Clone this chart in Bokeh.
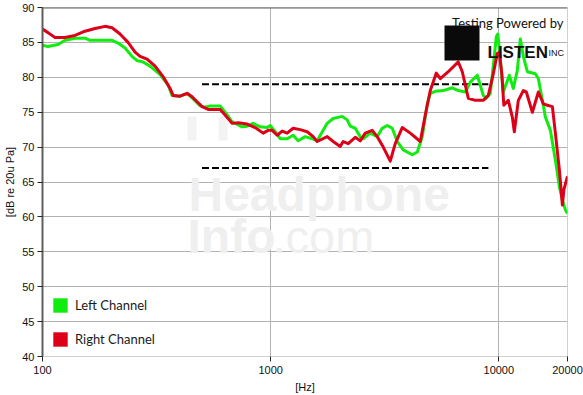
from bokeh.plotting import figure
from bokeh.models import (Range1d, FixedTicker, Legend, LegendItem, Label, Span,
                          ColumnDataSource, PrintfTickFormatter, BoxAnnotation)
from bokeh.embed import file_html
from bokeh.resources import INLINE

# ---------------- data ----------------
left_freq = [100, 105.7, 117.0, 125.5, 138.8, 153.6, 161.6, 201.8, 214.4, 230.1,
             246.9, 259.7, 275.9, 296.1, 327.6, 355.2, 369.8, 401.0, 430.4, 457.3,
             490.8, 516.2, 543.0, 600.5, 631.5, 677.8, 749.9, 788.7, 837.8, 899.4,
             965.3, 995, 1047, 1101, 1181, 1255, 1320, 1417, 1520, 1599,
             1769, 1879, 2059, 2165, 2232, 2348, 2469, 2545, 2731, 2932,
             3083, 3243, 3411, 3588, 3812, 4175, 4392, 4619, 4858, 5008,
             5267, 5710, 6253, 6643, 7130, 7499, 8048, 8549, 8813, 9178,
             9751, 9899, 10102, 10465, 11117, 11576, 12054, 12425, 12807, 13335,
             14462, 14907, 15521, 15998, 16827, 17699, 18429, 18996, 19581, 20000]
left_db = [84.6, 84.4, 84.7, 85.3, 85.6, 85.6, 85.3, 85.3, 84.9, 84.2,
           83.0, 82.4, 82.2, 81.6, 80.4, 78.9, 77.4, 77.3, 77.7, 76.9,
           75.9, 75.7, 75.9, 75.9, 75.0, 73.6, 72.9, 73.0, 73.4, 72.9,
           72.8, 73.1, 72.2, 71.2, 71.2, 71.7, 70.9, 71.5, 71.2, 70.9,
           73.4, 74.1, 74.4, 73.9, 73.0, 72.7, 71.5, 71.2, 72.0, 71.5,
           72.7, 73.1, 72.7, 70.8, 69.6, 68.9, 69.3, 71.5, 76.2, 77.7,
           78.0, 78.1, 78.5, 78.1, 77.9, 79.3, 80.3, 77.4, 77.0, 77.7,
           85.8, 86.2, 83.4, 77.9, 80.3, 78.4, 81.0, 85.5, 83.0, 80.8,
           80.5, 79.8, 76.7, 74.3, 72.4, 68.1, 64.3, 62.4, 61.0, 60.5]

right_freq = [100, 105.7, 113.4, 125.5, 138.8, 153.6, 169.9, 187.9, 201.8, 218.7,
              237.1, 254.5, 267.7, 287.3, 311.5, 337.7, 362.4, 373.6, 401.0, 430.4,
              452.7, 476.1, 500.8, 532.1, 600.5, 631.5, 677.8, 720.2, 788.7, 854.9,
              927.1, 975.1, 1015, 1068, 1123, 1181, 1255, 1347, 1446, 1536,
              1599, 1769, 1879, 2018, 2080, 2187, 2348, 2469, 2597, 2787,
              2932, 3115, 3343, 3516, 3774, 4092, 4527, 4761, 5008, 5321,
              5540, 6005, 6643, 6917, 7349, 7887, 8549, 8994, 9460, 9850,
              10051, 10308, 10518, 11007, 11460, 11694, 12176, 12807, 13200, 14029,
              14907, 15678, 16324, 17170, 17699, 18429, 18996, 19286, 20000]
right_db = [86.9, 86.4, 85.7, 85.7, 86.0, 86.6, 87.0, 87.3, 87.1, 86.2,
            85.0, 83.6, 83.0, 82.6, 81.6, 80.1, 78.4, 77.4, 77.3, 77.7,
            77.2, 76.5, 75.8, 75.4, 75.4, 74.6, 73.4, 73.5, 73.3, 72.8,
            72.0, 72.4, 72.4, 71.7, 72.3, 72.0, 72.7, 72.5, 72.2, 71.5,
            70.8, 71.5, 70.8, 70.1, 70.8, 70.5, 71.4, 70.9, 72.0, 72.4,
            71.5, 70.0, 68.0, 70.5, 72.8, 72.0, 70.8, 74.6, 78.1, 80.6,
            79.8, 80.8, 82.2, 80.8, 77.0, 76.7, 76.7, 77.4, 80.5, 83.4,
            83.6, 80.5, 76.0, 76.7, 74.3, 72.2, 76.7, 78.1, 77.9, 75.0,
            77.9, 76.2, 76.0, 75.8, 72.0, 66.7, 61.7, 63.9, 65.8]

target_freq = [500, 9000]
target_upper = [79, 79]
target_lower = [67, 67]

x_ticks = [100, 1000, 10000, 20000]
y_ticks = [40, 45, 50, 55, 60, 65, 70, 75, 80, 85, 90]
series_names = ["Left Channel", "Right Channel"]
series_colors = ["#10ec10", "#dc0018"]

# ---------------- figure ----------------
FL, FR, FT, FB = 42, 567, 7, 357  # frame edges on canvas
p = figure(width=583, height=395, x_axis_type="log",
           x_range=Range1d(100, 20000), y_range=Range1d(40, 90),
           output_backend="svg", toolbar_location=None,
           min_border_left=FL, min_border_right=583 - FR,
           min_border_top=FT, min_border_bottom=395 - FB)
p.background_fill_color = "white"
p.border_fill_color = "white"
p.outline_line_color = "#d0d0d0"
p.outline_line_width = 1


def sx(cx):
    return cx - FL


def sy(cy):
    return FB - cy


def screen_box(l, r, t, b, color, level):
    return BoxAnnotation(left=sx(l), right=sx(r), top=sy(t), bottom=sy(b),
                         left_units="screen", right_units="screen",
                         top_units="screen", bottom_units="screen",
                         fill_color=color, fill_alpha=1, line_color=None, level=level)


# watermark (behind everything)
wm = "#efefef"
p.add_layout(Label(x=sx(188), y=sy(195), x_units="screen", y_units="screen",
                   text="Headphone", text_font="Liberation Sans", text_font_style="bold",
                   text_font_size="48px", text_color=wm, text_baseline="alphabetic",
                   level="underlay"))
p.add_layout(Label(x=sx(187), y=sy(237), x_units="screen", y_units="screen",
                   text="Info", text_font="Liberation Sans", text_font_style="bold",
                   text_font_size="48px", text_color=wm, text_baseline="alphabetic",
                   level="underlay"))
p.add_layout(Label(x=sx(272), y=sy(237), x_units="screen", y_units="screen",
                   text=".com", text_font="Liberation Sans",
                   text_font_size="47px", text_color=wm, text_baseline="alphabetic",
                   level="underlay"))
p.add_layout(screen_box(187, 196, 117, 141, "#f3f3f3", "underlay"))
p.add_layout(screen_box(218, 227, 117, 141, "#f3f3f3", "underlay"))

# grid
p.ygrid.grid_line_color = "#b2b2b2"
p.ygrid.ticker = FixedTicker(ticks=y_ticks)
p.xgrid.grid_line_color = "#b2b2b2"
p.xgrid.ticker = FixedTicker(ticks=[1000, 10000])

# top border (dark)
p.add_layout(Span(location=90, dimension="width", line_color="#5e5e5e", line_width=2))

# target dashed lines
p.line(target_freq, target_upper, line_color="black", line_width=2, line_dash="7 3")
p.line(target_freq, target_lower, line_color="black", line_width=2, line_dash="7 3")

# curves
p.line(left_freq, left_db, line_color=series_colors[0], line_width=3, line_join="round")
p.line(right_freq, right_db, line_color=series_colors[1], line_width=3, line_join="round")

# axes
xa = p.xaxis[0]
xa.ticker = FixedTicker(ticks=x_ticks)
xa.formatter = PrintfTickFormatter(format="%d")
xa.axis_label = "[Hz]"
xa.axis_line_color = "#d0d0d0"
ya = p.yaxis[0]
ya.ticker = FixedTicker(ticks=y_ticks)
ya.axis_label = "[dB re 20u Pa]"
ya.axis_line_color = "#5e5e5e"
ya.axis_line_width = 2
for ax in (xa, ya):
    ax.major_tick_in = 0
    ax.major_tick_out = 5
    ax.major_tick_line_color = "#222222"
    ax.minor_tick_line_color = None
    ax.major_label_text_font = "Liberation Sans"
    ax.major_label_text_font_size = "11px"
    ax.major_label_text_color = "#111111"
    ax.axis_label_text_font = "Liberation Sans"
    ax.axis_label_text_font_size = "11px"
    ax.axis_label_text_font_style = "normal"
    ax.axis_label_text_color = "#111111"
xa.major_label_standoff = 4
xa.axis_label_standoff = 4
ya.major_label_standoff = 3
ya.axis_label_standoff = 3

# legend (square swatches; proxy renderers hold no visible data)
nan = float("nan")
sw = [p.quad(source=ColumnDataSource(dict(left=[nan], right=[nan], top=[nan], bottom=[nan])),
             left="left", right="right", top="top", bottom="bottom",
             fill_color=c, line_color=None) for c in series_colors]
legend = Legend(items=[LegendItem(label=n, renderers=[r]) for n, r in zip(series_names, sw)],
                location=(9, 8), orientation="vertical", glyph_width=18, glyph_height=18,
                label_height=18, label_standoff=6, spacing=16, padding=0, margin=0,
                border_line_color=None, background_fill_alpha=0,
                label_text_font="Lato", label_text_font_size="13px",
                label_text_color="#1a1a1a")
p.add_layout(legend)

# logo
p.add_layout(Label(x=sx(563), y=sy(23), x_units="screen", y_units="screen",
                   text="Testing Powered by", text_font="Lato", text_font_size="13px",
                   text_color="#111111", text_align="right", text_baseline="alphabetic"))
p.add_layout(screen_box(444, 479, 26, 61, "#0a0a0a", "annotation"))
p.add_layout(Label(x=sx(487), y=sy(53), x_units="screen", y_units="screen",
                   text="LISTEN", text_font="Liberation Sans", text_font_style="bold",
                   text_font_size="17px", text_color="#111111", text_baseline="alphabetic"))
p.add_layout(Label(x=sx(548), y=sy(53), x_units="screen", y_units="screen",
                   text="INC", text_font="Liberation Sans",
                   text_font_size="9px", text_color="#111111", text_baseline="alphabetic"))

open("out.html", "w").write(file_html(p, INLINE))
